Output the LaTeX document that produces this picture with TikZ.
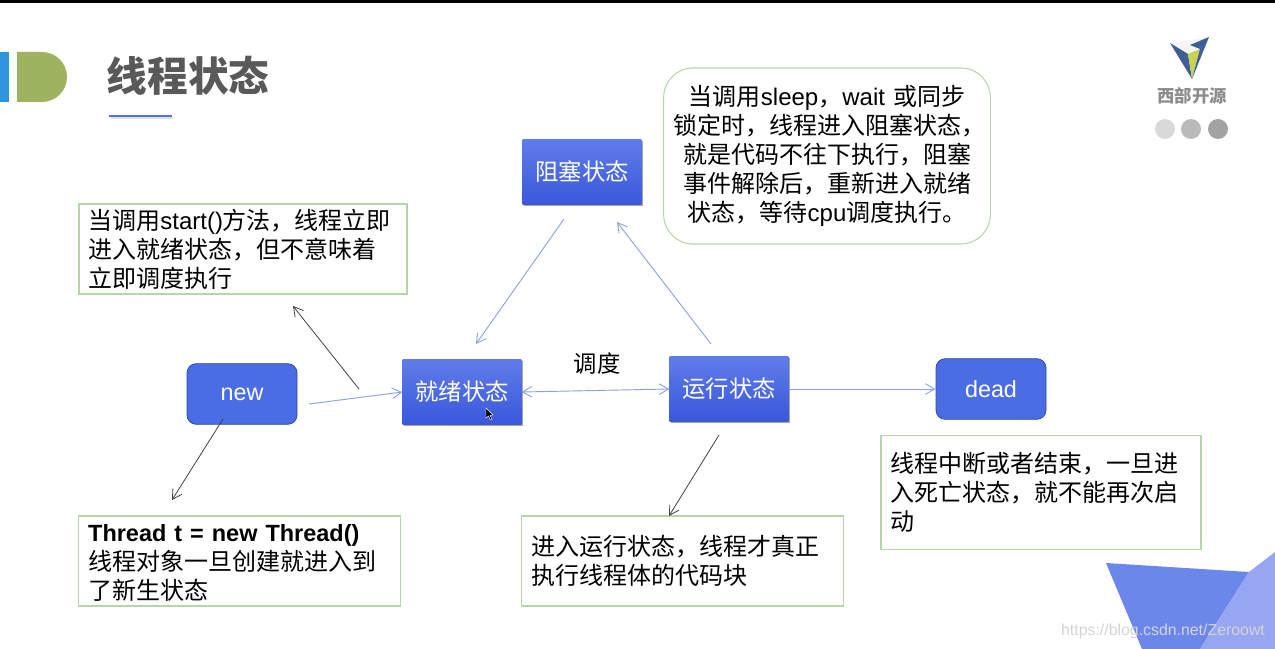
\documentclass[tikz,border=0pt]{standalone}
\usepackage{fontspec}
\setmainfont{Noto Sans CJK SC}
\newfontfamily\latinfont{Liberation Sans}
\usetikzlibrary{arrows.meta,shadows}
\definecolor{blocktop}{HTML}{5F7DE8}
\definecolor{blockbot}{HTML}{3A57DC}
\definecolor{roundfill}{HTML}{4A6DE5}
\definecolor{roundline}{HTML}{2F4A9A}
\definecolor{boxline}{HTML}{B5D6A9}
\definecolor{flowline}{HTML}{8DA2DC}
\definecolor{cornerdark}{HTML}{6C87EA}
\definecolor{cornerlight}{HTML}{97A6F2}
\definecolor{barblue}{HTML}{2E95DC}
\definecolor{bargreen}{HTML}{9DB35F}
\definecolor{logoblue}{HTML}{3F5E96}
\definecolor{logoyellow}{HTML}{C9D34F}
\begin{document}
\begin{tikzpicture}[x=0.75pt,y=-0.75pt]
\useasboundingbox (0,0) rectangle (1275,649);
\tikzset{blockstate/.style={minimum width=89pt,minimum height=49pt,inner sep=0pt,top color=blocktop,bottom color=blockbot,text=white,font=\fontsize{17.5}{20}\selectfont,drop shadow={shadow xshift=1pt,shadow yshift=-1.2pt,fill=black,opacity=.35}}};
\tikzset{roundstate/.style={minimum width=82.5pt,minimum height=45.5pt,inner sep=0pt,rounded corners=7pt,draw=roundline,line width=0.6pt,fill=roundfill,text=white,font=\fontsize{17.5}{20}\selectfont\latinfont}};
\tikzset{notebox/.style={draw=boxline,line width=0.8pt,align=left,inner xsep=7pt,inner ysep=0pt,font=\fontsize{18}{21.75}\selectfont}};
\tikzset{flowarrow/.style={-{Straight Barb[length=7pt,width=8pt]},draw=flowline,line width=0.7pt}};
\tikzset{notearrow/.style={-{Straight Barb[length=7pt,width=8pt]},draw=black!75,line width=0.6pt}};

\fill[black] (0,0) rectangle (1275,3);
\fill[barblue] (0,52) rectangle (9,102);
\fill[bargreen] (17,52) -- (42,52) arc (-90:90:25) -- (17,102) -- cycle;
\node (title) at (188,76) [text=black!65,font=\fontsize{30.5}{34}\selectfont\bfseries] {线程状态};
\draw[black!12,line width=1.5pt] (111,118.5) -- (173,118.5);
\draw[blockbot!85,line width=1.5pt] (109,116) -- (172,116);

\fill[black!4] (1170,43) -- (1209,37) -- (1200,49) -- (1188,54) -- cycle;
\fill[logoblue] (1170,43) -- (1188,54) -- (1192,79) -- cycle;
\fill[logoyellow] (1188,54) -- (1200,49) -- (1192,79) -- cycle;
\fill[logoblue] (1209,37) -- (1192,79) -- (1200,49) -- (1190,45) -- cycle;
\node (logotext) at (1192,96) [text=black!45,font=\fontsize{13}{15}\selectfont\bfseries] {西部开源};
\fill[black!15] (1165,129) circle (10);
\fill[black!27] (1191,129) circle (10);
\fill[black!36] (1218,129) circle (10);

\fill[cornerdark] (1106,563) -- (1249,572) -- (1200,649) -- (1142,649) -- cycle;
\fill[cornerlight] (1275,552) -- (1275,649) -- (1200,649) -- (1249,572) -- cycle;
\node (mark) at (1163,631) [text=black!17,font=\fontsize{11.9}{15}\selectfont\latinfont] {https://blog.csdn.net/Zeroowt};

\node (blocked) at (582,172) [blockstate] {阻塞状态};
\node (ready) at (462,392) [blockstate] {就绪状态};
\node (running) at (729,389) [blockstate] {运行状态};
\node (new) at (242,394) [roundstate] {new};
\node (dead) at (991,389) [roundstate] {dead};

\node (sched) at (597,364) [font=\fontsize{17.5}{20}\selectfont] {调度};
\node (startnote) at (243,249) [notebox,minimum width=246pt,minimum height=67.5pt,text width=232pt] {当调用{\latinfont start()}方法，线程立即\\进入就绪状态，但不意味着\\立即调度执行};
\node (newnote) at (239.5,561) [notebox,minimum width=241pt,minimum height=67.5pt,text width=227pt] {\rule{0pt}{16pt}{\fontsize{17.6}{21.75}\selectfont\latinfont\bfseries Thread t = new Thread()}\\线程对象一旦创建就进入到\\了新生状态};
\node (runnote) at (682.5,561) [notebox,minimum width=241pt,minimum height=67.5pt,text width=227pt] {进入运行状态，线程才真正\\执行线程体的代码块};
\node (deadnote) at (1041,492.5) [notebox,minimum width=240pt,minimum height=86pt,text width=226pt] {线程中断或者结束，一旦进\\入死亡状态，就不能再次启\\动};
\node (sleepnote) at (827,156) [notebox,align=center,rounded corners=22pt,minimum width=245pt,minimum height=132pt,text width=231pt] {当调用{\latinfont sleep}，{\latinfont wait} 或同步\\锁定时，线程进入阻塞状态，\\就是代码不往下执行，阻塞\\事件解除后，重新进入就绪\\状态，等待{\latinfont cpu}调度执行。};

\coordinate (newout) at (309,404);
\coordinate (blockedout) at (564,219);
\coordinate (readyin) at (476,344);
\coordinate (runningout) at (711,344);
\coordinate (blockedin) at (617,222);
\coordinate (readyup) at (359,389);
\coordinate (startin) at (293,306);
\coordinate (newdown) at (223,419);
\coordinate (newin) at (172,500);
\coordinate (rundown) at (719,435);
\coordinate (runin) at (669,516);

\path (newout) edge [flowarrow] (ready.west);
\path (ready.east) edge [flowarrow,{Straight Barb[length=7pt,width=8pt]}-{Straight Barb[length=7pt,width=8pt]}] (running.west);
\path (running.east) edge [flowarrow] (dead.west);
\path (blockedout) edge [flowarrow] (readyin);
\path (runningout) edge [flowarrow] (blockedin);
\path (readyup) edge [notearrow] (startin);
\path (newdown) edge [notearrow] (newin);
\path (rundown) edge [notearrow] (runin);

\filldraw[fill=black,draw=white,line width=0.3pt] (486,408) -- (486,418) -- (488.5,416) -- (490.5,420) -- (492,419) -- (490,415.5) -- (493,415) -- cycle;
\end{tikzpicture}
\end{document}
